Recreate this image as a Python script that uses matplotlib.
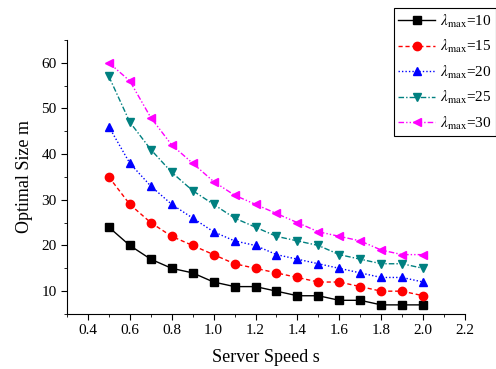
import matplotlib
matplotlib.use("Agg")
import matplotlib.pyplot as plt
from matplotlib.ticker import MultipleLocator

plt.rcParams['font.family'] = ['Liberation Serif', 'DejaVu Serif']
plt.rcParams['mathtext.fontset'] = 'stix'

# Vitesse du serveur
speed = [0.5, 0.6, 0.7, 0.8, 0.9, 1.0, 1.1, 1.2, 1.3, 1.4, 1.5, 1.6, 1.7, 1.8, 1.9, 2.0]

# Taille optimale pour chaque lambda_max
m_10 = [24, 20, 17, 15, 14, 12, 11, 11, 10, 9, 9, 8, 8, 7, 7, 7]
m_15 = [35, 29, 25, 22, 20, 18, 16, 15, 14, 13, 12, 12, 11, 10, 10, 9]
m_20 = [46, 38, 33, 29, 26, 23, 21, 20, 18, 17, 16, 15, 14, 13, 13, 12]
m_25 = [57, 47, 41, 36, 32, 29, 26, 24, 22, 21, 20, 18, 17, 16, 16, 15]
m_30 = [60, 56, 48, 42, 38, 34, 31, 29, 27, 25, 23, 22, 21, 19, 18, 18]
lambdas = [10, 15, 20, 25, 30]

series = [m_10, m_15, m_20, m_25, m_30]
styles = [
    ("black", "s", "-"),
    ("red", "o", (0, (3, 2))),
    ("blue", "^", (0, (1, 1.5))),
    ("#008080", "v", (0, (4, 1.5, 1, 1.5))),
    ("#FF00FF", "<", (0, (4, 1.5, 1, 1.5, 1, 1.5))),
]

fig = plt.figure(figsize=(4.96, 3.69), dpi=100)
ax = fig.add_axes([0.135, 0.149, 0.8025, 0.743])

for vals, lam, (c, mk, ls) in zip(series, lambdas, styles):
    ax.plot(speed, vals, color=c, marker=mk, linestyle=ls, linewidth=1,
            markersize=6, label=r"$\lambda_{\mathrm{max}}$=%d" % lam)

ax.set_xlim(0.3, 2.2)
ax.set_ylim(5, 65)
ax.xaxis.set_minor_locator(MultipleLocator(0.1))
ax.yaxis.set_minor_locator(MultipleLocator(5))
ax.set_xticks([0.4, 0.6, 0.8, 1.0, 1.2, 1.4, 1.6, 1.8, 2.0, 2.2])
ax.set_yticks([10, 20, 30, 40, 50, 60])
ax.spines['top'].set_visible(False)
ax.spines['right'].set_visible(False)
ax.tick_params(which='major', direction='out', length=4, labelsize=11)
ax.tick_params(which='minor', direction='out', length=2.5)

ax.set_xlabel("Server Speed s", fontsize=13, labelpad=8)
ax.set_ylabel("Optimal Size m", fontsize=13, labelpad=6)

leg = ax.legend(loc='upper left', bbox_to_anchor=(0.794, 0.978),
                bbox_transform=fig.transFigure, fontsize=11, fancybox=False,
                edgecolor='black', framealpha=1, handlelength=2.4,
                borderpad=0.3, borderaxespad=0, labelspacing=0.55,
                handletextpad=0.3)
leg.get_frame().set_linewidth(0.8)

plt.savefig("out.png", dpi=100)
